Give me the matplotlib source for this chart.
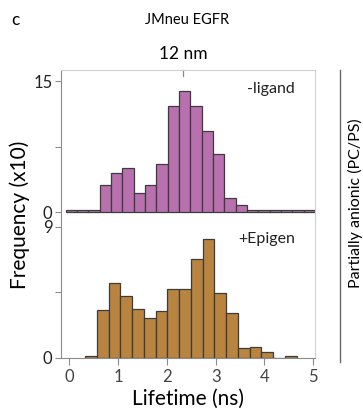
import matplotlib
matplotlib.use("Agg")
import matplotlib.pyplot as plt
import numpy as np

plt.rcParams["font.family"] = ["Lato", "DejaVu Sans"]

# -ligand histogram (counts x10)
lig_start = -0.074
lig_width = 0.2323
lig_counts = [0.23, 0.23, 0.23, 3.1, 4.5, 5.1, 2.2, 3.1, 5.5, 12.2, 13.9, 12.1,
              9.25, 6.7, 1.65, 0.85, 0.23, 0.23, 0.23, 0.23, 0.23, 0.23]

# +Epigen histogram (counts x10)
epi_start = 0.323
epi_width = 0.241
epi_counts = [0.09, 3.27, 5.16, 4.26, 3.36, 2.74, 3.18, 4.74, 4.74, 6.77, 8.17,
              4.44, 3.06, 0.67, 0.74, 0.35, 0.0, 0.09]

x_ticks = [0, 1, 2, 3, 4, 5]

W, H = 363, 409
fig = plt.figure(figsize=(W / 100, H / 100), dpi=100)


def box(l, t, r, b):
    return [l / W, 1 - b / H, (r - l) / W, (b - t) / H]


ax1 = fig.add_axes(box(60.7, 70, 315, 220))
ax2 = fig.add_axes(box(60.7, 220, 315, 357.5))

xlim = (-0.176, 5.035)
EDGE = "#3c3c3c"
SP = "#8c8c8c"
LIGHT = "#d0d0d0"

x1 = lig_start + lig_width * np.arange(len(lig_counts))
ax1.bar(x1, lig_counts, width=lig_width, align="edge", color="#B870AF",
        edgecolor=EDGE, linewidth=0.9)
x2 = epi_start + epi_width * np.arange(len(epi_counts))
ax2.bar(x2, epi_counts, width=epi_width, align="edge", color="#B8843F",
        edgecolor=EDGE, linewidth=0.9)

ax1.set_xlim(xlim)
ax1.set_ylim(-0.88, 16.26)
ax2.set_xlim(xlim)
ax2.set_ylim(0, 9.47)

for ax in (ax1, ax2):
    ax.spines["left"].set_color(SP)
    ax.spines["right"].set_color(LIGHT)
    ax.spines["top"].set_visible(False)
    ax.tick_params(axis="y", direction="out", length=4, color=SP,
                   labelsize=12, pad=2, labelcolor="#222222")

ax1.spines["top"].set_visible(True)
ax1.spines["top"].set_color(LIGHT)
ax1.spines["bottom"].set_visible(False)
ax2.spines["bottom"].set_color(SP)

ax1.set_xticks([])
ax1.set_yticks([0, 7.5, 15], ["0", "", "15"])
ax2.set_yticks([0, 4.5, 9], ["0", "", "9"])
ax2.set_xticks(x_ticks, [str(t) for t in x_ticks])
ax2.tick_params(axis="x", direction="out", length=5, color=SP,
                labelsize=12, pad=3, labelcolor="#444444")

# small tick on top edge
ax1.plot([2.34, 2.34], [16.26, 15.6], color=SP, lw=0.9, clip_on=False)

ax1.text(0.92, 0.87, "-ligand", transform=ax1.transAxes, ha="right",
         va="center", fontsize=11.5, color="#222222")
ax2.text(0.92, 0.86, "+Epigen", transform=ax2.transAxes, ha="right",
         va="center", fontsize=11.5, color="#222222")

ax2.set_xlabel("Lifetime (ns)", fontsize=15, labelpad=3)
fig.text(20 / W, 1 - 215 / H, "Frequency (x10)", rotation=90, ha="center",
         va="center", fontsize=15)

fig.text(15 / W, 1 - 20 / H, "c", ha="center", va="center", fontsize=12.5)
fig.text(187 / W, 1 - 20 / H, "JMneu EGFR", ha="center", va="center",
         fontsize=10.5)
fig.text(183 / W, 1 - 54 / H, "12 nm", ha="center", va="center",
         fontsize=12.5)

fig.add_artist(plt.Line2D([340 / W, 340 / W], [1 - 70 / H, 1 - 362 / H],
                          color="#666666", lw=1.0))
fig.text(355 / W, 1 - 203 / H, "Partially anionic (PC/PS)", rotation=90,
         ha="center", va="center", fontsize=11.5)

fig.savefig("out.png", dpi=100)
